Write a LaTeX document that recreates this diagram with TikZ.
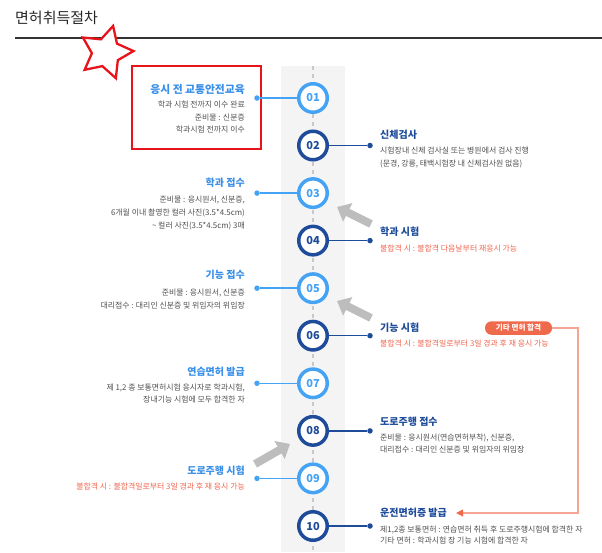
\documentclass[tikz,border=0pt]{standalone}
\usepackage{fontspec}
\setmainfont{Noto Sans CJK KR}
\usetikzlibrary{arrows.meta,shapes.geometric}
\definecolor{lb}{HTML}{45A3F5}
\definecolor{ltc}{HTML}{3A8FE8}
\definecolor{db}{HTML}{1E4C9A}
\definecolor{txt}{HTML}{505050}
\definecolor{rd}{HTML}{F0654E}
\definecolor{band}{HTML}{F4F4F4}
\definecolor{pk}{HTML}{F6A493}
\definecolor{pillc}{HTML}{EF6A4C}
\definecolor{garrow}{HTML}{BDBDBD}
\definecolor{boxred}{HTML}{E8141B}
\definecolor{dashc}{HTML}{C8C8C8}
\tikzset{
  ltitle/.style={anchor=east, inner sep=0pt, font=\fontsize{10}{12}\selectfont\bfseries, text=ltc},
  rtitle/.style={anchor=west, inner sep=0pt, font=\fontsize{10}{12}\selectfont\bfseries, text=db},
  lbody/.style={anchor=east, inner sep=0pt, font=\fontsize{7.9}{9}\selectfont, text=txt},
  rbody/.style={anchor=west, inner sep=0pt, font=\fontsize{7.9}{9}\selectfont, text=txt},
  lred/.style={lbody, text=rd},
  rred/.style={rbody, text=rd},
  oddc/.style={circle, draw=lb, line width=3.5pt, fill=white, minimum size=28.5pt, inner sep=0pt, text=lb, font=\fontsize{11}{12}\selectfont\bfseries},
  evenc/.style={oddc, draw=db, text=db},
  ldot/.style={circle, fill=lb, minimum size=5.5pt, inner sep=0pt},
  rdot/.style={circle, fill=db, minimum size=5.5pt, inner sep=0pt},
  lconn/.style={draw=lb, line width=1.5pt},
  rconn/.style={draw=db, line width=1.5pt},
  grayarrow/.style={draw=garrow, line width=8pt, -{Triangle[width=20pt,length=12pt]}}
}
\begin{document}
\begin{tikzpicture}[x=1pt,y=-1pt]
\useasboundingbox (0,0) rectangle (602,552);
% header
\node[anchor=west, inner sep=0pt, font=\fontsize{15}{17}\selectfont, text=black!85] (title) at (15,18) {면허취득절차};
\draw[line width=1.3pt, black!80] (15,38) -- (602,38);
\node[star, star points=5, star point ratio=1.95, minimum size=55pt, inner sep=0pt, draw=boxred, line width=2.3pt, fill=white, rotate=-15] (star) at (106,52.5) {};
% band
\fill[band] (281,66) rectangle (345,552);
\draw[dashc, line width=1.5pt, dash pattern=on 4pt off 4pt] (313,66) -- (313,552);
% red box
\draw[boxred, line width=2.2pt] (132,66) rectangle (261,149);
% circles
\node[oddc] (c1) at (313,98) {01};
\node[evenc] (c2) at (313,145.5) {02};
\node[oddc] (c3) at (313,193.1) {03};
\node[evenc] (c4) at (313,240.6) {04};
\node[oddc] (c5) at (313,288.2) {05};
\node[evenc] (c6) at (313,335.7) {06};
\node[oddc] (c7) at (313,383.3) {07};
\node[evenc] (c8) at (313,430.9) {08};
\node[oddc] (c9) at (313,478.4) {09};
\node[evenc] (c10) at (313,526) {10};
% dots and connectors
\node[ldot] (d1) at (257,98) {};
\node[rdot] (d2) at (370,145.5) {};
\node[ldot] (d3) at (257,193.1) {};
\node[rdot] (d4) at (370,240.6) {};
\node[ldot] (d5) at (257,288.2) {};
\node[rdot] (d6) at (370,335.7) {};
\node[ldot] (d7) at (257,383.3) {};
\node[rdot] (d8) at (370,430.9) {};
\node[ldot] (d9) at (257,478.4) {};
\node[rdot] (d10) at (370,526) {};
\foreach \i in {1,3,5,7,9} {\draw[lconn] (d\i) -- (c\i);}
\foreach \i in {2,4,6,8,10} {\draw[rconn] (c\i) -- (d\i);}
% 01
\node[ltitle, font=\fontsize{10.8}{12}\selectfont\bfseries] (t1) at (245,89) {응시 전 교통안전교육};
\node[lbody] (t1a) at (245,105) {학과 시험 전까지 이수 완료};
\node[lbody] (t1b) at (245,118) {준비물 : 신분증};
\node[lbody] (t1c) at (245,130) {학과시험 전까지 이수};
% 02
\node[rtitle] (t2) at (380,135) {신체검사};
\node[rbody] (t2a) at (380,151) {시험장내 신체 검사실 또는 병원에서 검사 진행};
\node[rbody] (t2b) at (380,164) {(문경, 강릉, 태백시험장 내 신체검사원 없음)};
% 03
\node[ltitle] (t3) at (245,183) {학과 접수};
\node[lbody] (t3a) at (245,200) {준비물 : 응시원서, 신분증,};
\node[lbody] (t3b) at (245,213) {6개월 이내 촬영한 컬러 사진(3.5*4.5cm)};
\node[lbody] (t3c) at (245,226) {\textasciitilde{} 컬러 사진(3.5*4.5cm) 3매};
% 04
\node[rtitle] (t4) at (380,232) {학과 시험};
\node[rred] (t4a) at (380,249) {불합격 시 : 불합격 다음날부터 재응시 가능};
% 05
\node[ltitle] (t5) at (245,275) {기능 접수};
\node[lbody] (t5a) at (245,293) {준비물 : 응시원서, 신분증};
\node[lbody] (t5b) at (245,306) {대리접수 : 대리인 신분증 및 위임자의 위임장};
% 06
\node[rtitle] (t6) at (380,328) {기능 시험};
\node[rred] (t6a) at (380,344) {불합격 시 : 불합격일로부터 3일 경과 후 재 응시 가능};
% 07
\node[ltitle] (t7) at (245,372) {연습면허 발급};
\node[lbody] (t7a) at (245,388) {제 1,2 종 보통면허시험 응시자로 학과시험,};
\node[lbody] (t7b) at (245,400) {장내기능 시험에 모두 합격한 자};
% 08
\node[rtitle] (t8) at (380,422) {도로주행 접수};
\node[rbody] (t8a) at (380,438) {준비물 : 응시원서(연습면허부착), 신분증,};
\node[rbody] (t8b) at (380,450) {대리접수 : 대리인 신분증 및 위임자의 위임장};
% 09
\node[ltitle] (t9) at (245,471) {도로주행 시험};
\node[lred] (t9a) at (245,487) {불합격 시 : 불합격일로부터 3일 경과 후 재 응시 가능};
% 10
\node[rtitle] (t10) at (380,513) {운전면허증 발급};
\node[rbody] (t10a) at (380,530) {제1,2종 보통면허 : 연습면허 취득 후 도로주행시험에 합격한 자};
\node[rbody] (t10b) at (380,541) {기타 면허 : 학과시험 장 기능 시험에 합격한 자};
% gray arrows
\coordinate (g1s) at (371,224);
\coordinate (g1e) at (337,207);
\coordinate (g2s) at (371,318);
\coordinate (g2e) at (337,301);
\coordinate (g3s) at (255,464);
\coordinate (g3e) at (290,444);
\draw[grayarrow] (g1s) -- (g1e);
\draw[grayarrow] (g2s) -- (g2e);
\draw[grayarrow] (g3s) -- (g3e);
% other licence path
\node[rounded corners=6.5pt, fill=pillc, minimum width=67pt, minimum height=13.5pt, inner sep=0pt, text=white, font=\fontsize{7.6}{8}\selectfont\bfseries] (pill) at (518.5,328) {기타 면허 합격};
\coordinate (corner) at (578,328);
\draw[pk, line width=1.3pt, -{Triangle[width=7pt,length=7pt,color=pillc]}] (pill.east) -- (corner) |- ([xshift=9pt]t10.east);
\end{tikzpicture}
\end{document}
